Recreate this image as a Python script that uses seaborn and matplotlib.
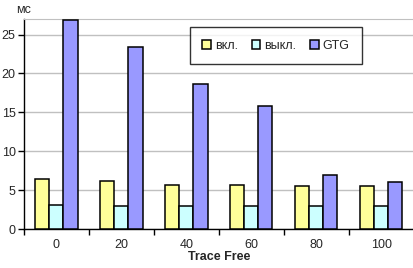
import pandas as pd
import seaborn as sns
import matplotlib.pyplot as plt

# values (ms)
trace_free = ["0", "20", "40", "60", "80", "100"]
on_vals = [6.4, 6.15, 5.65, 5.65, 5.5, 5.5]
off_vals = [3.05, 2.9, 2.9, 2.9, 2.9, 2.9]
gtg_vals = [26.9, 23.4, 18.7, 15.8, 6.9, 6.0]
series = ["вкл.", "выкл.", "GTG"]
colors = ["#FFFF99", "#CCFFFF", "#9999FF"]

df = pd.DataFrame({
    "Trace Free": trace_free * 3,
    "ms": on_vals + off_vals + gtg_vals,
    "mode": [s for s in series for _ in trace_free],
})

sns.set_style("white")
plt.rcParams["font.family"] = ["Liberation Sans", "DejaVu Sans"]

fig = plt.figure(figsize=(4.13, 2.68), dpi=100)
ax = fig.add_axes([0.058, 0.1455, 0.944, 0.7835])

sns.barplot(data=df, x="Trace Free", y="ms", hue="mode", palette=colors,
            width=0.65, edgecolor="black", linewidth=1.1, saturation=1,
            ax=ax, zorder=3)

ax.set_ylim(0, 27)
ax.set_xlim(-0.5, 5.5)
ax.set_yticks(range(0, 30, 5))
ax.yaxis.grid(True, color="#C0C0C0", linewidth=1, zorder=0)
ax.tick_params(axis="y", direction="out", length=4, width=1, color="black",
               labelsize=9, pad=2, left=True)

# ticks between categories, labels at category centers
ax.set_xticks([i - 0.5 for i in range(7)])
ax.set_xticklabels([])
ax.set_xticks(range(6), minor=True)
ax.set_xticklabels(trace_free, minor=True, fontsize=9)
ax.tick_params(axis="x", which="major", direction="out", length=4, width=1,
               color="black", bottom=True)
ax.tick_params(axis="x", which="minor", length=0, pad=7)

for side in ["left", "bottom"]:
    ax.spines[side].set_color("black")
    ax.spines[side].set_linewidth(1)
ax.spines["top"].set_color("#C0C0C0")
ax.spines["right"].set_visible(False)

ax.set_ylabel("")
ax.set_xlabel("Trace Free", fontsize=9, fontweight="bold", labelpad=0)
fig.text(0.038, 0.985, "мс", fontsize=9, va="top", ha="left")

leg = ax.legend(loc="upper center", bbox_to_anchor=(0.646, 0.962), ncol=3,
                frameon=True, fancybox=False, fontsize=9, handlelength=0.7,
                handleheight=0.7, handletextpad=0.3, columnspacing=1.1,
                borderpad=1.0, borderaxespad=0)
leg.get_frame().set_edgecolor("black")
leg.get_frame().set_linewidth(1)

fig.savefig("out.png", dpi=100)
